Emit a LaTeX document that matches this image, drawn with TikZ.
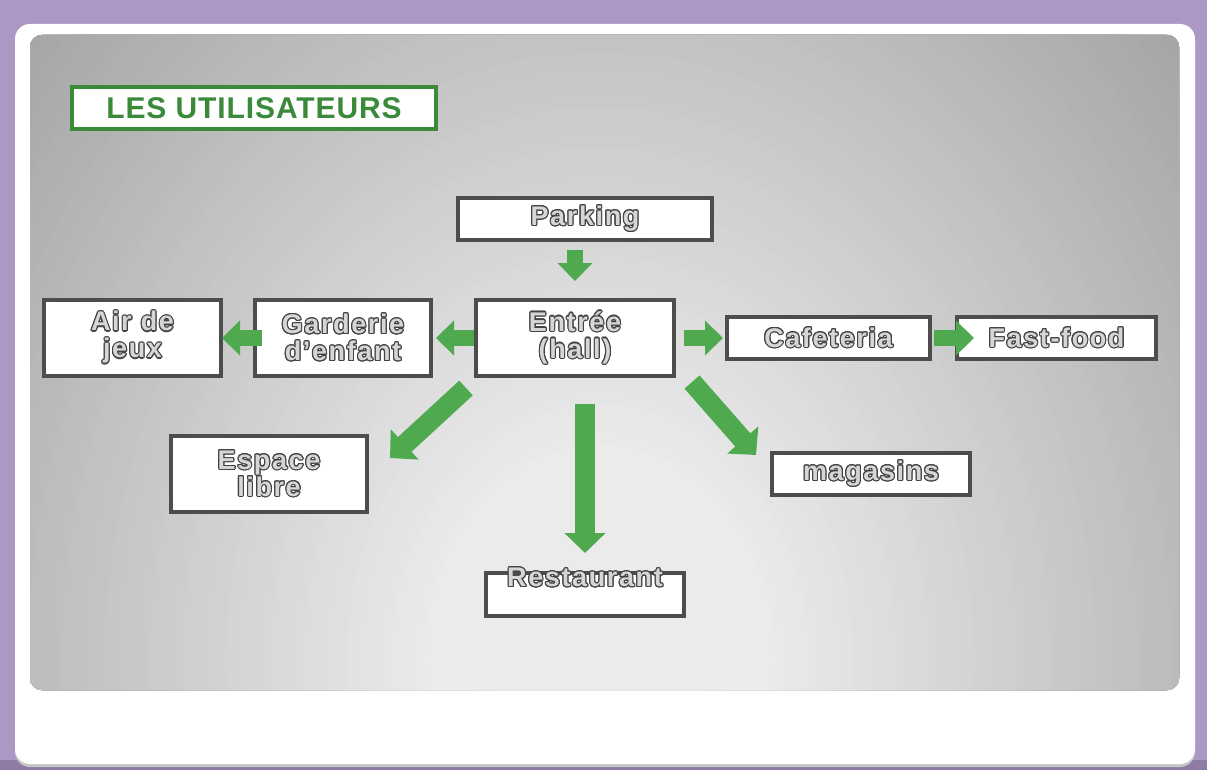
\documentclass[tikz,border=0pt]{standalone}
\usepackage{fontspec}
\setmainfont[LetterSpace=6]{Liberation Sans}
\usepackage{contour}
\usetikzlibrary{arrows.meta,positioning}

\definecolor{cadre}{HTML}{AD98C5}
\definecolor{cadrebas}{HTML}{8E7BA6}
\definecolor{trait}{HTML}{4D4D4D}
\definecolor{vert}{HTML}{3A8A3A}
\definecolor{fleche}{HTML}{4FAA4F}
\definecolor{relief}{HTML}{D6D6D6}
\definecolor{reliefbord}{HTML}{444444}

\contourlength{1.1pt}
\newcommand{\relief}[1]{\contour{reliefbord}{\textcolor{relief}{#1}}}

\begin{document}
\begin{tikzpicture}[x=1pt,y=1pt,font=\fontsize{27}{27}\selectfont\bfseries]
		\tikzstyle{box}=[draw=trait,line width=4pt,fill=white,inner sep=0pt,align=center]
		\tikzstyle{titlebox}=[box,draw=vert,text=vert,font=\fontsize{30}{32}\selectfont\addfontfeature{LetterSpace=3}\bfseries]
		\tikzstyle{flow}=[fleche,line width=16pt,-{Triangle[width=34pt,length=18pt]}]
		\tikzstyle{bigflow}=[line width=20pt,-{Triangle[width=40pt,length=20pt]}]
		
		% cadre et fond
		\useasboundingbox (0,0) rectangle (1207,-770);
		\fill[cadre] (0,0) rectangle (1207,-770);
		\fill[cadrebas] (0,-760) rectangle (1207,-770);
		\fill[gray!45,rounded corners=15pt] (15,-27) rectangle (1195,-767);
		\fill[white,rounded corners=15pt] (15,-24) rectangle (1195,-764);
		% degrade gris : ellipses de plus en plus claires vers le bas
		\begin{scope}
			\clip[rounded corners=12pt] (30,-35) rectangle (1179,-690);
			\foreach \r in {780,770,...,10}{
				\pgfmathsetmacro\teinte{16+0.1*max(\r-160,0)}
				\fill[gray!\teinte] (600,-660) ellipse ({1.1*\r} and {1.35*\r});
			}
		\end{scope}
		
		\node[titlebox,minimum width=364pt,minimum height=42pt] (titre) at (254,-108) {LES UTILISATEURS};
		
		\node[box,minimum width=198pt,minimum height=76pt] (hall) at (575,-338) {\relief{Entrée}\\\relief{(hall)}};
		\node[box,minimum width=254pt,minimum height=42pt] (parking) at (585,-219) {\relief{Parking}};
		\node[box,minimum width=176pt,minimum height=76pt] (garderie) [left=41pt of hall] {\relief{Garderie}\\\relief{d’enfant}};
		\node[box,minimum width=177pt,minimum height=76pt] (jeux) [left=30pt of garderie] {\relief{Air de}\\\relief{jeux}};
		\node[box,minimum width=203pt,minimum height=42pt] (cafe) [right=49pt of hall] {\relief{Cafeteria}};
		\node[box,minimum width=199pt,minimum height=42pt] (fastfood) [right=23pt of cafe] {\relief{Fast-food}};
		\node[box,minimum width=196pt,minimum height=76pt] (espace) at (269,-474) {\relief{Espace}\\\relief{libre}};
		\node[box,minimum width=198pt,minimum height=42pt] (magasins) at (871,-474) {\relief{magasins}};
		\node[box,minimum width=198pt,minimum height=43pt,label={[anchor=center,yshift=-7pt]north:\relief{Restaurant}}] (resto) at (585,-594.5) {};
		
		\path[flow]
		(hall.north |- parking.south)
		edge [shorten <=8pt,shorten >=17pt] (hall.north)
		
		(hall.west)
		edge [shorten >=3pt] (garderie.east)
		
		(garderie.west)
		edge [shorten <=-9pt,shorten >=-1pt] (jeux.east)
		
		(hall.east)
		edge [shorten <=8pt,shorten >=2pt] (cafe.west)
		
		(cafe.east)
		edge [shorten <=2pt,shorten >=-19pt] (fastfood.west)
		
		(resto.north |- hall.south)
		edge [bigflow,shorten <=26pt,shorten >=18pt] (resto.north)
		
		([xshift=-8pt,yshift=-10pt]hall.south west)
		edge [bigflow] ([xshift=21pt,yshift=-24pt]espace.north east)
		
		([xshift=16pt,yshift=-4pt]hall.south east)
		edge [bigflow] ([xshift=-14pt,yshift=-4pt]magasins.north west);
		
\end{tikzpicture}
\end{document}
